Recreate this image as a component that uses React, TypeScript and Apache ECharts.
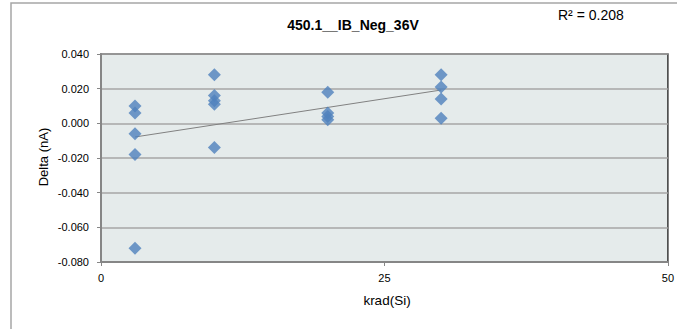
import React, { useEffect, useRef } from "react";
import * as echarts from "echarts";

const doseX = [3, 3, 3, 3, 3, 10, 10, 10, 10, 10, 20, 20, 20, 20, 30, 30, 30, 30];
const deltaY = [0.010, 0.006, -0.006, -0.018, -0.072, 0.028, 0.016, 0.013, 0.011, -0.014, 0.018, 0.006, 0.004, 0.002, 0.028, 0.021, 0.014, 0.003];
const xTicks = [0, 25, 50];
const yTicks = [-0.08, -0.06, -0.04, -0.02, 0, 0.02, 0.04];
const titleText = "450.1__IB_Neg_36V";
const r2Text = "R² = 0.208";

function fit(xs: number[], ys: number[]) {
  const n = xs.length;
  const mx = xs.reduce((a, b) => a + b, 0) / n;
  const my = ys.reduce((a, b) => a + b, 0) / n;
  let sxy = 0, sxx = 0;
  for (let i = 0; i < n; i++) {
    sxy += (xs[i] - mx) * (ys[i] - my);
    sxx += (xs[i] - mx) * (xs[i] - mx);
  }
  const slope = sxy / sxx;
  return { slope, intercept: my - slope * mx };
}

export default function App() {
  const ref = useRef<HTMLDivElement>(null);
  useEffect(() => {
    if (!ref.current) return;
    const chart = echarts.init(ref.current, null, { renderer: "svg" });
    const { slope, intercept } = fit(doseX, deltaY);
    const xmin = Math.min(...doseX);
    const xmax = Math.max(...doseX);
    const font = "Liberation Sans";
    chart.setOption({
      animation: false,
      textStyle: { fontFamily: font },
      grid: { left: 101, top: 54, right: 4, bottom: 67, show: true, backgroundColor: "#E5EBEB", borderColor: "#3a3a3a", borderWidth: 1.5 },
      graphic: [
        { type: "rect", shape: { x: 11, y: 3, width: 700, height: 400 }, style: { fill: "none", stroke: "#a6a6a6", lineWidth: 1.5 }, z: -10 },
        { type: "text", x: 353, y: 25, style: { text: titleText, font: `bold 14px ${font}`, fill: "#000", textAlign: "center", textVerticalAlign: "middle" } },
        { type: "text", x: 558, y: 15, style: { text: r2Text, font: `14px ${font}`, fill: "#000", textAlign: "left", textVerticalAlign: "middle" } },
        { type: "text", x: 43, y: 157, rotation: Math.PI / 2, style: { text: "Delta (nA)", font: `13px ${font}`, fill: "#000", textAlign: "center", textVerticalAlign: "middle" } },
        { type: "text", x: 387, y: 300, style: { text: "krad(Si)", font: `13.5px ${font}`, fill: "#000", textAlign: "center", textVerticalAlign: "middle" } },
      ],
      xAxis: {
        type: "value", min: xTicks[0], max: xTicks[xTicks.length - 1], interval: 25,
        axisLine: { show: true, onZero: false, lineStyle: { color: "#868686", width: 2 } },
        axisTick: { show: true, length: 4, lineStyle: { color: "#868686" } },
        axisLabel: { fontSize: 11, color: "#000", margin: 10, fontFamily: font },
        splitLine: { show: false },
      },
      yAxis: {
        type: "value", min: yTicks[0], max: yTicks[yTicks.length - 1], interval: 0.02,
        axisLine: { show: true, onZero: false, lineStyle: { color: "#868686", width: 2 } },
        axisTick: { show: true, length: 4, lineStyle: { color: "#868686" } },
        axisLabel: { fontSize: 11, color: "#000", margin: 12, fontFamily: font, formatter: (v: number) => v.toFixed(3) },
        splitLine: { show: true, lineStyle: { color: "#a6a6a6", width: 1.5 } },
      },
      series: [
        {
          type: "line",
          data: [[xmin, intercept + slope * xmin], [xmax, intercept + slope * xmax]],
          symbol: "none",
          lineStyle: { color: "#808080", width: 1 },
          z: 3,
        },
        {
          type: "scatter",
          data: doseX.map((x, i) => [x, deltaY[i]]),
          symbol: "diamond",
          symbolSize: [13, 13],
          itemStyle: { color: "#4F81BD" },
          z: 4,
        },
      ],
    });
    return () => chart.dispose();
  }, []);
  return <div ref={ref} style={{ position: "absolute", left: 0, top: 0, width: 677, height: 329 }} />;
}
